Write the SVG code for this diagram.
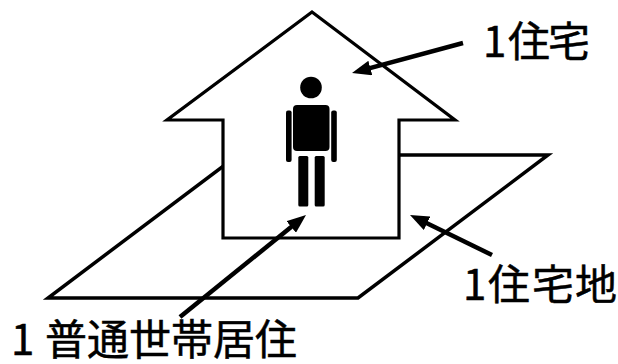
<svg xmlns="http://www.w3.org/2000/svg" width="618" height="364" viewBox="0 0 618 364">
  <style>
    .lot { fill: none; stroke: #000; stroke-width: 3.5; stroke-linejoin: miter; }
    .house { fill: #fff; stroke: #000; stroke-width: 3.2; stroke-linejoin: miter; }
    .figure { fill: #000; }
    .ptr { fill: none; stroke: #000; stroke-width: 4.5; marker-end: url(#head); }
    .label { font-family: "Noto Sans CJK JP", "Liberation Sans", sans-serif; font-size: 42px; fill: #000; stroke: #000; stroke-width: 0.5; }
  </style>
  <defs>
    <marker id="head" markerUnits="userSpaceOnUse" markerWidth="19" markerHeight="15" viewBox="0 0 19 15" refX="11" refY="7.5" orient="auto">
      <path d="M0,0 L19,7.5 L0,15 z" fill="#000"/>
    </marker>
  </defs>
  <rect width="618" height="364" fill="#fff"/>

  <!-- building plot -->
  <g id="lot">
    <polygon class="lot" points="48,298 358,298 548,155 238,155"/>
  </g>

  <!-- house outline -->
  <g id="house">
    <polygon class="house" points="312,12 455,120 399,120 399,238 223,238 223,120 167,120"/>
  </g>

  <!-- resident figure -->
  <g id="person" class="figure">
    <circle cx="311" cy="87.5" r="10.8"/>
    <rect x="293" y="105" width="36.5" height="46" rx="4"/>
    <rect x="286" y="110.5" width="5.6" height="51.5" rx="2"/>
    <rect x="331.2" y="110.5" width="5.6" height="51.5" rx="2"/>
    <rect x="298.3" y="156" width="10" height="50.5" rx="1.5"/>
    <rect x="314.7" y="156" width="10" height="50.5" rx="1.5"/>
  </g>

  <!-- pointers -->
  <g id="connectors">
    <line class="ptr" x1="463" y1="43" x2="359.7" y2="70.9"/>
    <line class="ptr" x1="180" y1="317" x2="299.8" y2="220"/>
    <line class="ptr" x1="492" y1="255" x2="417.2" y2="218.5"/>
  </g>

  <!-- labels -->
  <g id="label-house">
    <text class="label" x="483 508 548" y="57">1住宅</text>
  </g>
  <g id="label-lot">
    <text class="label" x="463 488 532 575" y="300">1住宅地</text>
  </g>
  <g id="label-household">
    <text class="label" x="11 45 87 129 171 213 255" y="355">1普通世帯居住</text>
  </g>
</svg>
